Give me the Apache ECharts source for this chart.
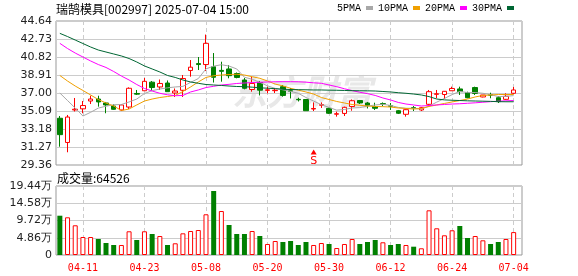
<!DOCTYPE html>
<html><head><meta charset="utf-8">
<script src="https://cdn.jsdelivr.net/npm/echarts@6/dist/echarts.min.js"></script>
<style>html,body{margin:0;padding:0;background:#fff}#c{width:578px;height:276px}</style>
</head><body><div id="c"></div>
<script>
const titleText = '瑞鹄模具[002997] 2025-07-04 15:00';
const dates = ['04-08','04-09','04-10','04-11','04-14','04-15','04-16','04-17','04-18','04-21','04-22','04-23','04-24','04-25','04-28','04-29','04-30','05-06','05-07','05-08','05-09','05-12','05-13','05-14','05-15','05-16','05-19','05-20','05-21','05-22','05-23','05-26','05-27','05-28','05-29','05-30','06-03','06-04','06-05','06-06','06-09','06-10','06-11','06-12','06-13','06-16','06-17','06-18','06-19','06-20','06-23','06-24','06-25','06-26','06-27','06-30','07-01','07-02','07-03','07-04'];
const open  = [34.32,31.75,35.20,35.32,36.15,36.36,35.94,35.62,35.20,35.51,36.95,37.24,38.15,37.64,38.06,37.00,37.29,39.39,40.12,40.02,39.79,39.40,39.55,39.07,38.38,37.37,38.11,37.28,37.25,37.67,37.24,36.33,36.31,35.30,35.70,35.37,34.75,34.83,35.57,36.20,35.94,35.57,35.87,35.64,35.12,34.74,35.44,35.20,35.80,36.86,36.84,37.24,37.43,37.03,37.58,36.58,36.82,36.50,36.33,36.97];
const close = [32.58,34.45,35.28,35.67,36.36,36.05,35.73,35.27,35.73,37.50,36.88,38.24,37.58,38.01,37.14,37.21,38.54,39.74,40.02,42.27,38.67,39.30,38.84,38.65,37.50,38.01,37.30,37.34,37.30,36.74,37.18,36.28,35.12,35.36,35.76,34.85,34.80,35.48,36.18,35.94,35.67,35.38,35.83,35.60,34.85,35.23,35.40,35.44,37.14,36.92,37.18,37.48,37.14,36.50,36.95,36.79,36.77,36.08,36.65,37.32];
const low   = [31.30,30.71,35.04,34.85,35.83,35.55,34.85,35.23,35.09,35.30,36.79,37.24,37.24,37.32,37.14,36.58,36.58,38.73,39.44,39.33,38.11,38.20,38.56,38.56,37.39,37.14,36.74,36.97,37.00,36.61,36.42,36.10,35.12,35.09,35.41,34.77,34.49,34.56,35.12,35.83,35.36,35.20,35.62,35.20,34.77,34.49,35.09,35.09,35.62,36.44,36.36,37.24,36.79,36.44,36.79,36.54,36.44,35.94,36.26,36.89];
const high  = [34.56,34.67,36.47,36.15,36.71,36.71,36.05,35.80,35.80,37.60,37.32,38.59,38.27,38.43,38.33,37.48,38.91,40.50,40.82,43.20,41.24,40.32,39.97,39.18,38.59,38.73,38.27,37.67,37.53,37.85,37.53,36.50,36.36,36.00,36.00,35.46,35.02,35.55,36.31,36.26,36.05,35.97,36.00,35.94,35.20,35.27,35.62,35.51,37.32,37.32,37.21,37.67,37.67,37.14,37.67,36.79,37.03,36.68,36.97,37.64];
const ma5  = [37.00,36.20,35.40,34.56,34.95,35.40,35.60,35.75,35.78,36.05,36.36,36.95,37.25,37.42,37.55,37.64,37.70,38.13,38.53,39.56,39.85,40.00,39.86,39.55,38.67,38.46,38.13,37.76,37.49,37.34,37.17,36.97,36.52,36.14,35.76,35.47,35.18,35.25,35.41,35.45,35.61,35.73,35.80,35.68,35.47,35.38,35.38,35.30,35.61,36.03,36.42,36.83,37.17,37.04,37.05,36.97,36.83,36.62,36.65,36.72];
const ma10 = [38.86,38.27,37.74,37.27,36.79,36.31,35.94,35.62,35.14,35.30,35.73,36.15,36.36,36.52,36.63,36.74,37.16,37.64,38.17,38.65,38.83,38.91,38.96,38.99,38.91,38.73,38.56,38.27,37.95,37.75,37.50,37.30,37.11,36.89,36.52,36.31,36.10,35.94,35.78,35.70,35.62,35.57,35.55,35.51,35.41,35.36,35.30,35.36,35.57,35.73,35.89,36.05,36.20,36.36,36.58,36.74,36.79,36.84,36.84,36.84];
const ma20 = [42.27,41.72,41.24,40.82,40.40,40.02,39.71,39.28,38.80,38.38,37.90,37.48,37.21,36.97,36.81,36.71,36.74,37.11,37.32,37.58,37.71,37.85,37.92,38.01,38.06,38.11,38.14,38.17,38.19,38.20,38.20,38.19,38.15,38.08,38.03,37.85,37.67,37.45,37.25,37.08,36.93,36.74,36.47,36.26,36.00,35.83,35.73,35.62,35.67,35.73,35.78,35.83,35.86,35.91,35.96,36.02,36.08,36.13,36.17,36.20];
const ma30 = [43.33,42.99,42.62,42.25,41.88,41.56,41.35,41.14,40.93,40.66,40.29,39.87,39.55,39.23,38.86,38.65,38.38,38.17,38.03,37.90,37.85,37.80,37.74,37.69,37.67,37.62,37.55,37.51,37.46,37.40,37.37,37.35,37.34,37.32,37.32,37.30,37.29,37.27,37.25,37.24,37.23,37.21,37.16,37.11,37.03,36.97,36.89,36.79,36.62,36.36,36.27,36.23,36.20,36.17,36.15,36.13,36.11,36.08,36.07,36.07];
const volume = [110700,106200,83700,50700,50700,45100,33800,28200,28200,66800,42300,66800,59200,53500,28200,33000,61100,67600,70400,114700,180300,123900,84500,59200,59200,67600,53500,31000,39400,36600,39400,28200,36600,28200,33800,31000,19700,31000,45100,31000,36600,42300,35800,28200,31000,28200,23400,18900,125900,75200,55500,69600,81700,47900,53500,41400,31000,36600,45100,64526];
const volDir = [-1,1,1,1,1,-1,-1,-1,1,1,-1,1,-1,1,-1,1,1,1,1,1,-1,1,-1,-1,-1,1,-1,1,1,-1,-1,-1,-1,1,1,-1,1,1,1,-1,-1,-1,1,-1,-1,1,-1,1,1,1,1,1,-1,-1,1,1,-1,-1,1,1];
const priceTicks = ['29.36','31.27','33.18','35.09','37.00','38.91','40.82','42.73','44.64'];
const volTicks = ['0','4.86万','9.72万','14.58万','19.44万'];
const signalDate = '05-28';
const signalPrice = 30.74;
const signalText = 'S';
const maNames = ['5PMA','10PMA','20PMA','30PMA'];
const maColors = ['#a8a8a8','#f0a000','#ff00ff','#006633'];

const pMin = 29.36, pMax = 44.64, pStep = 1.91;
const vMax = 194400, vStep = 48600;
const RED = '#ff0000', GREEN = '#008000';
const labelIdx = (i) => (i - 3) % 8 === 0;

const chart = echarts.init(document.getElementById('c'), null, {renderer: 'canvas'});
const mas = [ma5, ma10, ma20, ma30];
const option = {
  animation: false,
  backgroundColor: '#fff',
  title: [
    {text: titleText, left: 56, top: 3, padding: 0, textStyle: {fontSize: 12, fontWeight: 'normal', color: '#000', fontFamily: '"Noto Sans CJK SC"'}},
    {text: '成交量:' + volume[volume.length - 1], left: 57, top: 172, padding: 0, textStyle: {fontSize: 12, fontWeight: 'normal', color: '#000', fontFamily: '"Noto Sans CJK SC"'}}
  ],
  legend: {
    data: maNames, left: 337, top: 3, padding: 0, align: 'right', icon: 'rect',
    itemWidth: 7, itemHeight: 4, itemGap: 5,
    textStyle: {fontSize: 10, color: '#000', fontFamily: '"Liberation Mono"'}
  },
  graphic: [{
    type: 'text', left: 232, top: 74, z: 0, silent: true,
    style: {text: '东方财富', font: 'italic bold 35px "Noto Sans CJK SC"', fill: '#e8e8e8'}
  }],
  grid: [
    {left: 56, top: 21, width: 466, height: 144, show: true, borderColor: '#999', borderWidth: 1, backgroundColor: 'transparent'},
    {left: 56, top: 21, width: 461.5, height: 144},
    {left: 56, top: 186, width: 466, height: 69, show: true, borderColor: '#999', borderWidth: 1, backgroundColor: 'transparent'},
    {left: 56, top: 186, width: 461.5, height: 69}
  ],
  xAxis: [
    {gridIndex: 0, type: 'value', show: false, min: 0, max: 1},
    {gridIndex: 1, type: 'category', data: dates, boundaryGap: true,
     axisLine: {show: false}, axisTick: {show: false}, axisLabel: {show: false},
     splitLine: {show: true, interval: labelIdx, alignWithLabel: true, lineStyle: {color: '#cccccc', type: [4, 3]}}},
    {gridIndex: 2, type: 'value', show: false, min: 0, max: 1},
    {gridIndex: 3, type: 'category', data: dates, boundaryGap: true,
     axisLine: {show: false}, axisTick: {show: false},
     axisLabel: {show: true, interval: labelIdx, color: RED, fontSize: 10, fontFamily: '"DejaVu Sans Mono"', margin: 8},
     splitLine: {show: true, interval: labelIdx, alignWithLabel: true, lineStyle: {color: '#cccccc', type: [4, 3]}}}
  ],
  yAxis: [
    {gridIndex: 0, type: 'value', min: pMin, max: pMax, interval: pStep,
     axisLine: {show: false}, axisTick: {show: false},
     axisLabel: {show: true, margin: 4, color: '#222', fontSize: 11, fontFamily: '"DejaVu Sans"',
       formatter: (v) => { const k = Math.round((v - pMin) / pStep); return priceTicks[k] || ''; }},
     splitLine: {show: true, lineStyle: {color: '#cccccc'}}},
    {gridIndex: 1, type: 'value', min: pMin, max: pMax, show: false, splitLine: {show: false}},
    {gridIndex: 2, type: 'value', min: 0, max: vMax, interval: vStep,
     axisLine: {show: false}, axisTick: {show: false},
     axisLabel: {show: true, margin: 4, color: '#222', fontSize: 11, fontFamily: '"DejaVu Sans"',
       formatter: (v) => volTicks[Math.round(v / vStep)] || ''},
     splitLine: {show: true, lineStyle: {color: '#cccccc'}}},
    {gridIndex: 3, type: 'value', min: 0, max: vMax, show: false, splitLine: {show: false}}
  ],
  series: [
    {type: 'candlestick', xAxisIndex: 1, yAxisIndex: 1, barWidth: 5, z: 3,
     data: dates.map((d, i) => [open[i], close[i], low[i], high[i]]),
     itemStyle: {color: '#ffffff', color0: GREEN, borderColor: RED, borderColor0: GREEN, borderWidth: 1},
     markPoint: {
       symbol: 'triangle', symbolSize: [6, 5], itemStyle: {color: RED},
       label: {show: true, position: 'bottom', distance: 1, color: RED, fontSize: 11, fontFamily: '"DejaVu Sans"', formatter: signalText},
       data: [{coord: [signalDate, signalPrice]}]
     }},
    ...maNames.map((n, k) => ({
      name: n, type: 'line', xAxisIndex: 1, yAxisIndex: 1, data: mas[k], symbol: 'none', z: 4,
      lineStyle: {width: 1, color: maColors[k]}, itemStyle: {color: maColors[k]}
    })),
    {type: 'bar', xAxisIndex: 3, yAxisIndex: 3, barWidth: 5,
     data: volume.map((v, i) => ({value: v, itemStyle: volDir[i] > 0
       ? {color: '#ffffff', borderColor: RED, borderWidth: 1}
       : {color: GREEN, borderColor: GREEN, borderWidth: 0}}))}
  ]
};
chart.setOption(option);
</script>
</body></html>
